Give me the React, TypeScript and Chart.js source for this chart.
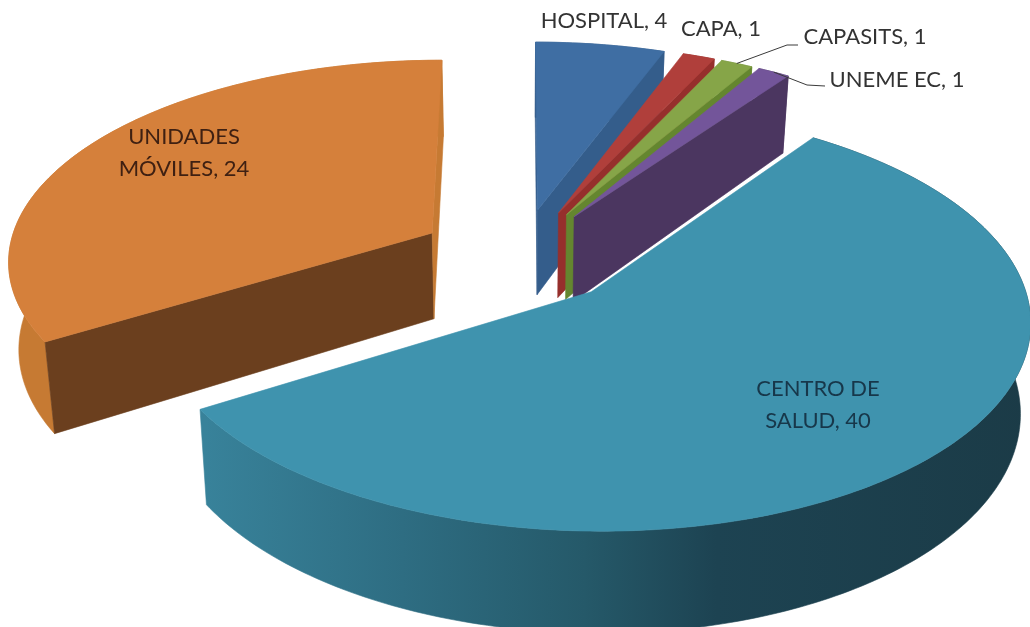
import { useEffect, useRef } from "react";
import { Chart, registerables } from "chart.js";

Chart.register(...registerables);

const categories = ["HOSPITAL", "CAPA", "CAPASITS", "UNEME EC", "CENTRO DE SALUD", "UNIDADES MÓVILES"];
const counts = [4, 1, 1, 1, 40, 24];

const topColors = ["#3f6ea3", "#b03f3b", "#86a548", "#73559a", "#3f93ae", "#d5803b"];
const faceColors = ["#345d8b", "#962f2c", "#64862f", "#4b3660", "#2d6a80", "#6b3f1e"];
const endFaceColors = ["#345d8b", "#962f2c", "#64862f", "#4b3660", "#2d6a80", "#c67a33"];

// Far slices are painted first so that nearer ones overlap them.
const paintOrder = [5, 0, 1, 2, 3, 4];

// Each label is wrapped onto the lines given here, centred on its anchor.
const labelLines = [
  ["HOSPITAL, 4"],
  ["CAPA, 1"],
  ["CAPASITS, 1"],
  ["UNEME EC, 1"],
  ["CENTRO DE", "SALUD, 40"],
  ["UNIDADES", "MÓVILES, 24"],
];
const labelAnchors = [
  [604, 21],
  [721, 29],
  [865, 37],
  [897, 80],
  [818, 389],
  [184, 137],
];
const labelColors = ["#333333", "#333333", "#333333", "#333333", "#17374a", "#3f2012"];

const view = {
  cx: 520,
  cy: 256,
  radius: 425,
  tilt: 0.47,
  perspective: 0.125,
  explode: 0.24,
  depth: 87,
  bottomScale: 0.98,
};

// Projects a point of the pie's plane (radius = 1) onto the canvas; z runs 0 (top) to 1 (base).
function project(x: number, y: number, z: number) {
  const s = 1 / (1 - view.perspective * y);
  const shrink = 1 + (view.bottomScale - 1) * z;
  return [
    view.cx + view.radius * x * s * shrink,
    view.cy + s * (view.radius * view.tilt * y + view.depth * z),
  ];
}

function sliceGeometry(arc: any) {
  const { startAngle, endAngle } = arc;
  const mid = (startAngle + endAngle) / 2;
  const ox = Math.cos(mid) * view.explode;
  const oy = Math.sin(mid) * view.explode;
  const rim = (a: number, z: number) => project(ox + Math.cos(a), oy + Math.sin(a), z);
  const apex = (z: number) => project(ox, oy, z);
  return { startAngle, endAngle, rim, apex };
}

function fillPath(ctx: CanvasRenderingContext2D, pts: number[][], fill: string | CanvasGradient) {
  ctx.beginPath();
  pts.forEach((p, i) => (i ? ctx.lineTo(p[0], p[1]) : ctx.moveTo(p[0], p[1])));
  ctx.closePath();
  ctx.fillStyle = fill;
  ctx.fill();
  ctx.strokeStyle = fill;
  ctx.lineWidth = 0.6;
  ctx.stroke();
}

function wallFill(ctx: CanvasRenderingContext2D, index: number): string | CanvasGradient {
  if (index === 4) {
    const g = ctx.createLinearGradient(205, 0, 1030, 0);
    g.addColorStop(0, "#38829a");
    g.addColorStop(0.24, "#2e6d82");
    g.addColorStop(0.46, "#255969");
    g.addColorStop(0.62, "#1d4352");
    g.addColorStop(1, "#1b3b47");
    return g;
  }
  if (index === 5) return "#c67a33";
  return faceColors[index];
}

function drawSlice(ctx: CanvasRenderingContext2D, arc: any, index: number) {
  const { startAngle, endAngle, rim, apex } = sliceGeometry(arc);
  const steps = Math.max(4, Math.ceil(((endAngle - startAngle) * 180) / Math.PI));
  const angles: number[] = [];
  for (let i = 0; i <= steps; i++) angles.push(startAngle + ((endAngle - startAngle) * i) / steps);

  // Outer wall first; the parts facing away end up beneath the top surface.
  const wall = [...angles.map((a) => rim(a, 0)), ...angles.slice().reverse().map((a) => rim(a, 1))];
  fillPath(ctx, wall, wallFill(ctx, index));

  // Radial cut faces, only where they turn towards the viewer.
  const a0 = apex(0);
  const a1 = apex(1);
  const s0 = rim(startAngle, 0);
  const e0 = rim(endAngle, 0);
  if (s0[0] < a0[0]) fillPath(ctx, [a0, s0, rim(startAngle, 1), a1], faceColors[index]);
  if (e0[0] > a0[0]) fillPath(ctx, [a0, e0, rim(endAngle, 1), a1], endFaceColors[index]);

  fillPath(ctx, [a0, ...angles.map((a) => rim(a, 0))], topColors[index]);
}

const pie3dPlugin = {
  id: "pie3d",
  beforeDatasetDraw(chart: Chart) {
    const ctx = chart.ctx;
    const arcs = chart.getDatasetMeta(0).data;
    ctx.save();
    paintOrder.forEach((i) => drawSlice(ctx, arcs[i], i));
    ctx.restore();
    return false;
  },
  afterDraw(chart: Chart) {
    const ctx = chart.ctx;
    const arcs = chart.getDatasetMeta(0).data;
    ctx.save();
    // Leader lines for the two labels that sit away from their slices.
    ctx.strokeStyle = "#3a3a3a";
    ctx.lineWidth = 1;
    const leaders: [number, number[], number[]][] = [
      [2, [787, 45], [798, 45]],
      [3, [807, 85], [825, 86]],
    ];
    leaders.forEach(([i, knee, end]) => {
      const g = sliceGeometry(arcs[i]);
      const p = g.rim((g.startAngle + g.endAngle) / 2, 0);
      ctx.beginPath();
      ctx.moveTo(p[0], p[1]);
      ctx.lineTo(knee[0], knee[1]);
      ctx.lineTo(end[0], end[1]);
      ctx.stroke();
    });
    ctx.font = '22px Lato, "Open Sans", sans-serif';
    ctx.textAlign = "center";
    ctx.textBaseline = "middle";
    labelLines.forEach((lines, i) => {
      ctx.fillStyle = labelColors[i];
      lines.forEach((line, j) => ctx.fillText(line, labelAnchors[i][0], labelAnchors[i][1] + j * 31.5));
    });
    ctx.restore();
  },
};

export default function App() {
  const canvasRef = useRef<HTMLCanvasElement>(null);

  useEffect(() => {
    document.body.style.margin = "0";
    document.body.style.background = "#ffffff";
    const chart = new Chart(canvasRef.current!, {
      type: "pie",
      data: {
        labels: categories,
        datasets: [{ data: counts, backgroundColor: topColors, borderWidth: 0 }],
      },
      options: {
        responsive: false,
        animation: false,
        plugins: { legend: { display: false }, tooltip: { enabled: false } },
      },
      plugins: [pie3dPlugin],
    });
    return () => chart.destroy();
  }, []);

  return <canvas ref={canvasRef} width={1030} height={627} style={{ display: "block" }} />;
}
